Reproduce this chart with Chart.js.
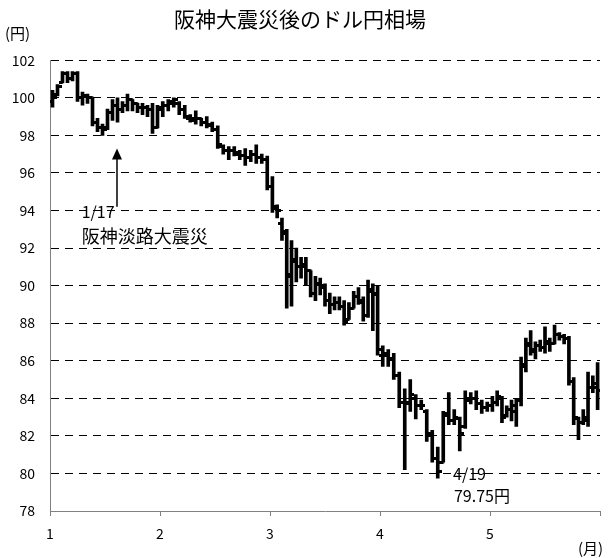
<!DOCTYPE html>
<html><head><meta charset="utf-8">
<script src="https://cdn.jsdelivr.net/npm/chart.js@4.4.0/dist/chart.umd.min.js"></script>
<style>html,body{margin:0;padding:0;background:#fff}</style>
</head><body>
<canvas id="c" width="614" height="558"></canvas>
<script>
// ---- data ----
const monthLabels = ['1', '2', '3', '4', '5'];
const barsPerMonth = [22, 20, 23, 20, 23];
const openVals = [
  99.8,100.2,100.8,101.3,101.0,101.3,100.0,100.1,100.0,98.7,98.4,98.4,99.2,99.6,99.4,99.6,99.9,99.7,99.5,99.5,99.4,98.4,
  99.5,99.6,99.7,99.7,99.4,98.9,98.8,98.9,98.7,98.5,98.3,97.4,97.2,97.2,97.0,96.9,96.8,97.0,96.8,96.7,
  95.3,94.1,93.3,92.8,90.6,91.3,91.0,91.0,90.8,89.6,90.1,89.9,89.2,89.0,89.1,88.9,88.2,88.8,89.4,89.1,88.4,89.7,89.5,
  86.3,86.3,86.1,85.2,83.8,83.8,84.0,83.6,83.3,82.0,80.8,80.6,83.2,82.8,82.9,82.5,83.9,84.0,83.7,83.5,
  83.6,83.8,84.0,83.1,83.4,83.3,83.9,85.8,86.8,86.5,86.8,86.7,86.9,86.9,87.4,87.3,87.2,84.9,82.9,82.7,82.8,84.6,84.6
];
const highVals = [
  100.4,100.7,101.4,101.4,101.4,101.4,100.3,100.2,100.0,98.9,98.6,99.4,99.9,100.0,99.8,100.2,99.9,99.7,99.7,99.6,99.7,99.6,
  99.8,99.9,100.0,99.8,99.6,99.1,99.3,98.9,99.0,98.7,98.5,97.5,97.4,97.4,97.2,97.3,97.2,97.5,97.0,96.9,
  95.8,94.3,93.6,93.0,92.4,92.0,91.5,91.5,90.8,90.5,90.4,90.1,89.6,89.4,89.4,89.2,89.1,89.7,89.9,89.4,90.3,90.1,90.0,
  86.8,86.6,86.4,85.4,84.5,85.0,84.2,83.9,83.4,82.3,81.4,83.3,84.3,83.4,83.0,84.4,84.3,84.4,83.9,83.8,
  84.1,84.4,84.1,83.6,83.9,84.0,86.2,87.2,87.6,87.0,87.1,87.8,87.2,87.9,87.5,87.4,87.3,85.1,83.0,83.4,85.4,85.2,85.9
];
const lowVals = [
  99.5,100.1,100.8,100.8,100.9,99.8,99.6,99.7,98.5,98.2,98.0,98.3,98.8,98.7,99.2,99.3,99.3,99.2,99.1,99.0,98.1,98.4,
  99.0,99.3,99.5,99.1,98.9,98.7,98.6,98.5,98.4,98.2,97.3,97.0,96.7,96.9,96.7,96.4,96.6,96.5,96.5,95.1,
  93.9,93.6,92.4,88.8,88.9,90.2,90.4,90.0,89.4,89.2,89.5,88.9,88.5,88.7,88.7,87.9,88.2,88.8,89.0,88.1,88.3,87.6,86.3,
  85.7,85.7,85.0,83.5,80.2,83.3,82.9,83.4,81.7,80.6,79.75,80.6,82.6,82.6,81.2,82.4,83.7,83.4,83.2,83.3,
  83.3,83.6,82.7,83.0,82.8,82.5,83.6,85.4,86.3,86.1,86.5,86.4,86.5,86.9,87.1,86.9,84.7,82.6,81.8,82.6,82.5,84.3,83.4
];
const closeVals = [
  100.0,100.6,101.3,101.0,101.3,100.0,100.1,100.0,98.7,98.4,98.3,99.2,99.6,99.4,99.6,99.9,99.7,99.5,99.5,99.4,98.4,99.4,
  99.6,99.8,99.9,99.4,99.0,98.9,98.9,98.7,98.6,98.3,97.5,97.2,97.2,97.1,96.9,96.8,97.0,96.8,96.7,95.3,
  94.2,94.0,92.9,90.5,91.4,91.0,91.1,90.8,89.6,90.1,90.0,89.2,89.0,89.1,88.9,88.1,88.8,89.4,89.2,88.4,89.8,89.6,86.6,
  86.4,86.1,85.2,83.8,83.7,84.2,83.6,83.6,82.1,80.8,80.1,83.1,82.8,83.0,82.1,84.0,84.0,83.7,83.5,83.6,
  83.8,84.1,83.0,83.4,83.6,83.9,85.7,86.9,86.6,86.8,86.7,87.0,86.9,87.4,87.3,87.2,84.9,83.0,82.7,83.0,84.6,84.8,84.4
];
const yTickValues = [78, 80, 82, 84, 86, 88, 90, 92, 94, 96, 98, 100, 102];

// ---- build x positions: bars spread evenly inside each month ----
const xPos = [];
barsPerMonth.forEach((n, m) => {
  for (let k = 0; k < n; k++) xPos.push(m + 1 + (k + 0.5) / n);
});

const FONT = "'Noto Sans CJK JP', 'Noto Sans', sans-serif";
Chart.defaults.font.family = FONT;
Chart.defaults.color = '#000';

function tickImage(side) {
  const c = document.createElement('canvas');
  c.width = 8; c.height = 3;
  const g = c.getContext('2d');
  g.fillStyle = '#000';
  if (side === 'left') g.fillRect(0, 0, 4.5, 3); else g.fillRect(3.5, 0, 4.5, 3);
  return c;
}

const annotations = {
  arrow: { x: 1.609, from: 94.2, to: 97.3 },
  texts: [
    { text: '1/17', x: 1.288, y: 93.9, size: 16 },
    { text: '阪神淡路大震災', x: 1.288, y: 92.65, size: 18 },
    { text: '4/19', x: 4.664, y: 79.98, size: 16 },
    { text: '79.75円', x: 4.672, y: 78.8, size: 16 }
  ]
};

const annotPlugin = {
  id: 'annot',
  afterDraw(chart) {
    const { ctx, scales: { x, y } } = chart;
    ctx.save();
    // arrow
    const ax = x.getPixelForValue(annotations.arrow.x);
    const y0 = y.getPixelForValue(annotations.arrow.from);
    const y1 = y.getPixelForValue(annotations.arrow.to);
    ctx.strokeStyle = '#000'; ctx.lineWidth = 1.5;
    ctx.beginPath(); ctx.moveTo(ax, y0); ctx.lineTo(ax, y1 + 8); ctx.stroke();
    ctx.fillStyle = '#000';
    ctx.beginPath(); ctx.moveTo(ax, y1); ctx.lineTo(ax - 5, y1 + 11); ctx.lineTo(ax + 5, y1 + 11); ctx.closePath(); ctx.fill();
    // texts
    ctx.textBaseline = 'middle'; ctx.textAlign = 'left';
    annotations.texts.forEach(t => {
      ctx.font = t.size + 'px ' + FONT;
      ctx.fillText(t.text, x.getPixelForValue(t.x), y.getPixelForValue(t.y));
    });
    // unit labels
    ctx.font = '15px ' + FONT;
    ctx.fillText('(円)', 5, 33);
    ctx.fillText('(月)', 578, 548);
    ctx.restore();
  }
};

new Chart(document.getElementById('c'), {
  type: 'bar',
  data: {
    datasets: [
      {
        type: 'bar',
        label: 'range',
        data: xPos.map((xv, i) => ({ x: xv, y: [lowVals[i], highVals[i]] })),
        backgroundColor: '#000',
        borderWidth: 0,
        barThickness: 3,
        grouped: false
      },
      {
        type: 'scatter',
        label: 'open',
        data: xPos.map((xv, i) => ({ x: xv, y: openVals[i] })),
        pointStyle: tickImage('left'),
        pointRadius: 3,
        pointHoverRadius: 3
      },
      {
        type: 'scatter',
        label: 'close',
        data: xPos.map((xv, i) => ({ x: xv, y: closeVals[i] })),
        pointStyle: tickImage('right'),
        pointRadius: 3,
        pointHoverRadius: 3
      }
    ]
  },
  options: {
    responsive: false,
    devicePixelRatio: 1,
    animation: false,
    events: [],
    layout: { padding: { left: 0, right: 14, top: 0, bottom: 0 } },
    plugins: {
      legend: { display: false },
      tooltip: { enabled: false },
      title: {
        display: true,
        text: '阪神大震災後のドル円相場',
        font: { size: 21, weight: 'normal', family: FONT },
        color: '#000',
        padding: { top: 6, bottom: 29 }
      }
    },
    scales: {
      x: {
        type: 'linear',
        min: 1, max: 6,
        offset: false,
        afterFit(s) { s.height = 47; },
        ticks: {
          stepSize: 1, autoSkip: false, maxRotation: 0,
          font: { size: 14 }, color: '#000', padding: 9,
          callback: v => monthLabels[v - 1] ?? ''
        },
        grid: { drawOnChartArea: false, drawTicks: true, tickLength: 5, color: '#808080', offset: false },
        border: { display: true, color: '#808080', width: 1 }
      },
      y: {
        min: 78, max: 102,
        afterFit(s) { s.width = 50; },
        afterBuildTicks(s) { s.ticks = yTickValues.map(v => ({ value: v })); },
        ticks: { font: { size: 14 }, color: '#000', padding: 15 },
        grid: {
          drawTicks: false,
          color: c => (c.tick && c.tick.value === 78) ? 'rgba(0,0,0,0)' : '#000',
          lineWidth: 1
        },
        border: { display: true, color: '#808080', width: 1, dash: [8, 6] }
      }
    }
  },
  plugins: [annotPlugin]
});
</script>
</body></html>
